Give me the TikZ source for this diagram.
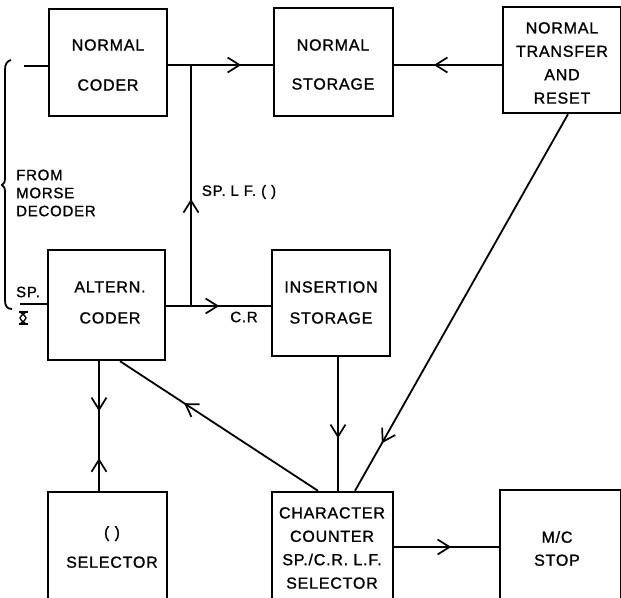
\documentclass[tikz,border=0pt]{standalone}
\usepackage{fontspec}
\setmainfont{Liberation Sans}[LetterSpace=5,FakeBold=1.2]
\usetikzlibrary{arrows.meta,decorations.markings}
\begin{document}
\begin{tikzpicture}[x=1pt,y=-1pt,
  box/.style={draw, line width=2.4pt, inner sep=0pt, rectangle},
  txt/.style={align=center, inner sep=0pt, font=\fontsize{16}{#1}\selectfont},
  lbl/.style={inner sep=0pt, font=\fontsize{15}{18}\selectfont},
  conn/.style={line width=1.8pt},
  barb/.style={postaction={decorate,decoration={markings,mark=at position #1 with {\arrow{Straight Barb[length=12pt,width=15pt,line width=1.7pt]}}}}},
  rbarb/.style={postaction={decorate,decoration={markings,mark=at position #1 with {\arrowreversed{Straight Barb[length=12pt,width=15pt,line width=1.7pt]}}}}}
]
\useasboundingbox (0,0) rectangle (621,597);
\clip (0,0) rectangle (621,597);

% boxes
\node[box, minimum width=118, minimum height=107] (nc) at (108,62.5) {};
\node[box, minimum width=119, minimum height=108] (ns) at (333.5,62) {};
\node[box, minimum width=118, minimum height=106] (nt) at (562,60) {};
\node[box, minimum width=117, minimum height=110] (ac) at (106.5,305) {};
\node[box, minimum width=118, minimum height=106] (is) at (331,303) {};
\node[box, minimum width=119, minimum height=130] (sel) at (107.5,557) {};
\node[box, minimum width=121, minimum height=130] (cc) at (332.5,557) {};
\node[box, minimum width=121, minimum height=132] (ms) at (560.5,556) {};

% box texts
\node[txt=40] (nct) at (108,65) {NORMAL\\CODER};
\node[txt=39] (nst) at (333,64.5) {NORMAL\\STORAGE};
\node[txt=23.4] (ntt) at (562,63) {NORMAL\\TRANSFER\\AND\\RESET};
\node[txt=31] (act) at (110,302.5) {ALTERN.\\CODER};
\node[txt=31] (ist) at (331,302.5) {INSERTION\\STORAGE};
\node[txt=30] (selt) at (112,547) {(\,\,)\\SELECTOR};
\node[txt=23.4] (cct) at (332,548) {CHARACTER\\COUNTER\\SP./C.R. L.F.\\SELECTOR};
\node[txt=23] (mst) at (557,548.5) {M/C\\STOP};

% labels
\node[lbl] (l1) at (239,192) {SP. L F. (\,\,)};
\node[lbl] (l2) at (244,317) {C.R};
\node[lbl, anchor=west, align=left] (l3) at (16,193) {FROM\\MORSE\\DECODER};
\node[lbl] (l4) at (28,292) {SP.};

% junctions
\coordinate (jt) at (191,65);
\coordinate (jm) at (191,306);
\coordinate (bt) at (24,66);
\coordinate (bb) at (20,304);

% connectors
\draw[conn, barb=73pt] (nc.east |- jt) -- (ns.west |- jt);
\draw[conn, barb=68pt] (nt.west |- jt) -- (ns.east |- jt);
\draw[conn, barb=107pt] (jm) -- (jt);
\draw[conn, barb=53pt] (ac.east |- jm) -- (is.west |- jm);
\draw[conn, barb=81pt] ([xshift=7pt]is.south) -- ([xshift=7pt]is.south |- cc.north);
\draw[conn, barb=160pt] ([xshift=-14.5pt]cc.north) -- ([xshift=13.5pt]ac.south);
\draw[conn, barb=378pt] ([xshift=6pt]nt.south) -- ([xshift=22.5pt]cc.north);
\draw[conn, barb=50pt, rbarb=97pt] ([xshift=-7.5pt]ac.south) -- ([xshift=-7.5pt]ac.south |- sel.north);
\draw[conn, barb=57pt] ([yshift=10pt]cc.east) -- ([yshift=10pt]cc.east -| ms.west);
\draw[conn] (bt) -- (nc.west |- bt);
\draw[conn] (bb) -- (ac.west |- bb);

% brace
\draw[conn] (11,60) .. controls (7,61) and (5,64) .. (5,70) -- (5,178)
  .. controls (5,182) and (4,184) .. (2,185) .. controls (4,186) and (5,188) .. (5,192)
  -- (5,300) .. controls (5,306) and (7,309) .. (12,309);

% symbol under SP.
\draw[line width=1.3pt] (18.5,312) -- (27.5,312) (18.5,324) -- (27.5,324);
\draw[line width=1.3pt] (20,312) .. controls (28,318) .. (20,324)
  (26,312) .. controls (18,318) .. (26,324);
\end{tikzpicture}
\end{document}
